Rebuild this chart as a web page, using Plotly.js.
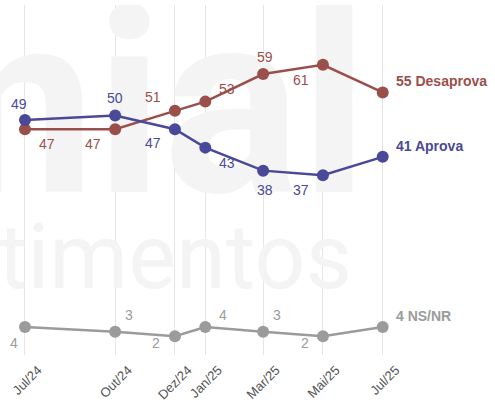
<!DOCTYPE html>
<html>
<head>
<meta charset="utf-8">
<script src="https://cdn.plot.ly/plotly-3.0.1.min.js"></script>
<style>html,body{margin:0;padding:0;background:#fff;}#chart{width:495px;height:402px;}</style>
</head>
<body>
<div id="chart"></div>
<script>
// Data
var dates = ['2024-07-01','2024-10-01','2024-12-01','2025-01-01','2025-03-01','2025-05-01','2025-07-01'];
var tickLabels = ['Jul/24','Out/24','Dez/24','Jan/25','Mar/25','Mai/25','Jul/25'];
var desaprova = [47, 47, 51, 53, 59, 61, 55];
var aprova = [49, 50, 47, 43, 38, 37, 41];
var nsnr = [4, 3, 2, 4, 3, 2, 4];
var seriesNames = ['Desaprova', 'Aprova', 'NS/NR'];

// Styles
var colors = ['#9a4f4b', '#4a4898', '#9b9b9b'];
var xRange = ['2024-06-05 12:00', '2025-10-23 14:00'];
var yRange = [-2.07, 74];
var plotTop = 5, plotBottom = 355, plotW = 495;
// label offsets (pixels) per point, last point gets the end label
var offsets = [
  [[22,15],[-22,15],[-22,-14],[22,-13],[2,-17],[-22,15]],
  [[-6,-16],[0,-17],[-22,14],[22,15],[2,19],[-22,15]],
  [[-11,16],[14,-17],[-19,7],[18,-12],[14,-17],[-18,7]]
];
var allSeries = [desaprova, aprova, nsnr];

// helpers for placing the faint background watermark (decoration only)
function pxToDate(px) {
  var t0 = new Date(xRange[0].replace(' ', 'T') + 'Z').getTime();
  var t1 = new Date(xRange[1].replace(' ', 'T') + 'Z').getTime();
  var t = t0 + (t1 - t0) * px / plotW;
  return new Date(t).toISOString().replace('T', ' ').slice(0, 19);
}
function pyToVal(py) {
  return yRange[1] - (yRange[1] - yRange[0]) * (py - plotTop) / (plotBottom - plotTop);
}

var traces = [];
traces.push({
  x: [pxToDate(368), pxToDate(352)], y: [pyToVal(128), pyToVal(265)],
  type: 'scatter', mode: 'text', text: ['<b>genial</b>', 'investimentos'],
  textposition: ['middle left', 'middle left'],
  textfont: {family: 'Roboto, sans-serif', size: [256, 90], color: '#f4f4f4'},
  hoverinfo: 'skip', showlegend: false
});

var annotations = [];
allSeries.forEach(function(vals, s){
  traces.push({
    x: dates, y: vals, type: 'scatter', mode: 'lines+markers',
    line: {color: colors[s], width: 2.5},
    marker: {color: colors[s], size: 12},
    hoverinfo: 'skip', showlegend: false
  });
  for (var i = 0; i < vals.length - 1; i++) {
    annotations.push({
      x: dates[i], y: vals[i], xref: 'x', yref: 'y',
      text: String(vals[i]), showarrow: false,
      xshift: offsets[s][i][0], yshift: -offsets[s][i][1],
      font: {family: 'Liberation Sans, Arial, sans-serif', size: 14, color: colors[s]}
    });
  }
  var last = vals.length - 1;
  annotations.push({
    x: dates[last], y: vals[last], xref: 'x', yref: 'y',
    text: '<b>' + vals[last] + ' ' + seriesNames[s] + '</b>', showarrow: false,
    xanchor: 'left', xshift: 11, yshift: 11,
    font: {family: 'Liberation Sans, Arial, sans-serif', size: 14, color: colors[s]}
  });
});

var layout = {
  width: 495, height: 402,
  margin: {l: 0, r: 0, t: 5, b: 47},
  paper_bgcolor: '#ffffff', plot_bgcolor: 'rgba(0,0,0,0)',
  xaxis: {
    type: 'date', range: xRange,
    tickvals: dates, ticktext: tickLabels, tickangle: -45,
    ticklabelshift: 13, ticklabelstandoff: 4,
    showgrid: true, gridcolor: '#e6e6e6', gridwidth: 1,
    zeroline: false, showline: false, ticks: '',
    tickfont: {family: 'Liberation Sans, Arial, sans-serif', size: 13, color: '#555'}
  },
  yaxis: {range: yRange, visible: false, showgrid: false, zeroline: false},
  annotations: annotations,
  showlegend: false
};

Plotly.newPlot('chart', traces, layout, {displayModeBar: false, staticPlot: true});
</script>
</body>
</html>
